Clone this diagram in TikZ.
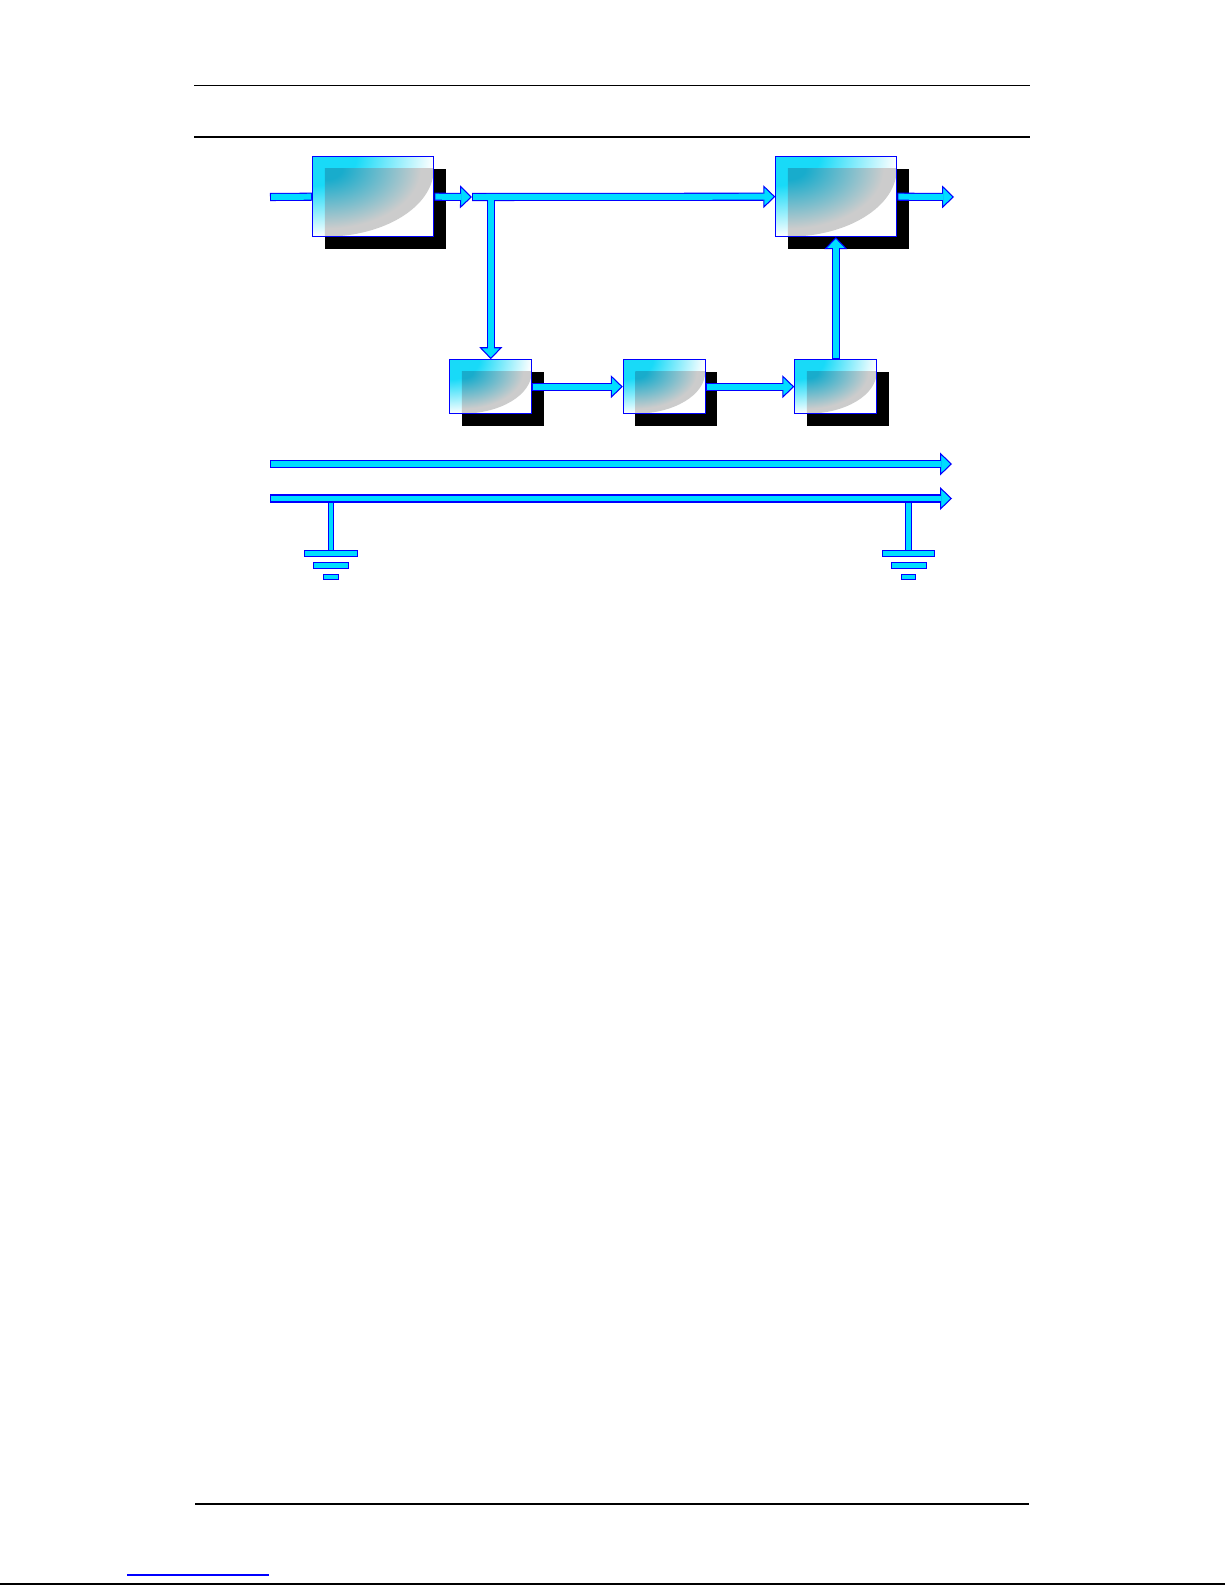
\documentclass[tikz,border=0pt]{standalone}
\usepackage{tikz}
\usetikzlibrary{arrows.meta}
\usetikzlibrary{shadows}
\usetikzlibrary{calc}

\definecolor{flowcyan}{RGB}{0,221,255}
\definecolor{flowblue}{RGB}{0,0,255}
\definecolor{glowcyan}{RGB}{24,218,248}
\definecolor{coreteal}{RGB}{24,172,204}
\definecolor{coregrey}{RGB}{204,204,204}

\pgfdeclareradialshading{boxglow}{\pgfpoint{0bp}{0bp}}{color(0bp)=(glowcyan); color(9bp)=(glowcyan); color(25bp)=(white); color(50bp)=(white)}
\pgfdeclareradialshading{boxcore}{\pgfpoint{0bp}{0bp}}{color(0bp)=(coreteal); color(4bp)=(coreteal); color(14bp)=(coreteal!45!coregrey); color(22bp)=(coregrey); color(50bp)=(coregrey)}

\begin{document}
\begin{tikzpicture}[x=0.02cm,y=-0.02cm,
  block/.style={draw=flowblue,line width=0.6pt,fill=white,inner sep=0pt,
    drop shadow={shadow xshift=0.24cm,shadow yshift=-0.24cm,opacity=1,fill=black,draw=none},
    path picture={
      \shade[shading=boxglow] let \p1=(path picture bounding box.north west),
        \p2=(path picture bounding box.south east) in
        (\p1) ellipse[x radius=\x2-\x1, y radius=\y1-\y2];
      \begin{scope}
        \clip let \p1=(path picture bounding box.north west),
          \p2=(path picture bounding box.south east) in
          (\x1+0.24cm,\y1-0.24cm) rectangle (\p2);
        \shade[shading=boxcore] let \p1=(path picture bounding box.north west),
          \p2=(path picture bounding box.south east) in
          (\x1+0.24cm,\y1-0.24cm) ellipse[x radius=\x2-\x1-0.24cm, y radius=\y1-\y2-0.24cm];
      \end{scope}
    }},
  bigblock/.style={block,minimum width=2.42cm,minimum height=1.6cm},
  smallblock/.style={block,minimum width=1.64cm,minimum height=1.08cm},
  fatline/.style={draw=flowblue,line width=4.6pt,
    postaction={draw=flowcyan,line width=3.4pt,arrows=-,shorten <=0.6pt,shorten >=0.6pt}},
  fatarrow/.style={draw=flowblue,line width=4.6pt,
    -{Triangle[length=6.8pt,width=13pt,fill=flowcyan,line width=0.6pt]},
    postaction={draw=flowcyan,line width=3.4pt,arrows=-,shorten <=0.6pt,shorten >=6pt}},
  gndbar/.style={draw=flowblue,fill=flowcyan,line width=0.6pt},
  rule/.style={black,line width=0.8pt}]

\useasboundingbox (0,0) rectangle (1225,1585);

% page rules
\draw[rule] (194,85.3) -- (1030,85.3);
\draw[rule] (194,137) -- (1030,137);
\draw[rule] (195,1504) -- (1029,1504);
\draw[flowblue,line width=0.6pt] (127,1575) -- (269,1575);
\draw[rule] (0,1584) -- (1225,1584);

% blocks
\node[bigblock] (inbox) at (373.3,196.7) {};
\node[bigblock] (outbox) at (836.3,196.7) {};
\node[smallblock] (stepa) at (490.8,386.7) {};
\node[smallblock] (stepb) at (664.3,386.7) {};
\node[smallblock] (stepc) at (835.8,386.7) {};

\coordinate (feed) at (270,197);
\coordinate (split) at (472,197);
\coordinate (tap) at (490.8,201);
\coordinate (exit) at (954,197);
\coordinate (busa0) at (270,464);
\coordinate (busa1) at (952,464);
\coordinate (busb0) at (270,498.5);
\coordinate (busb1) at (952,498.5);

% signal path
\draw[fatline] (feed) -- (inbox.west);
\draw[fatarrow] (inbox.east) -- (split);
\draw[fatarrow] (split) -- (outbox.west);
\draw[fatarrow,postaction={draw=flowcyan,line width=3.4pt,arrows=-,shorten <=-2.4pt,shorten >=6pt}] (tap) -- (stepa.north);
\draw[fatarrow] (stepa.east) -- (stepb.west);
\draw[fatarrow] (stepb.east) -- (stepc.west);
\draw[fatarrow] (stepc.north) -- (stepc.north |- outbox.south);
\draw[fatarrow] (outbox.east) -- (exit);

% buses
\draw[fatarrow] (busa0) -- (busa1);
\draw[fatarrow] (busb0) -- (busb1);

% grounds
\draw[gndbar] (328.3,502.3) rectangle (333.5,550.3);
\draw[gndbar] (304.3,550.3) rectangle (357.3,556.5);
\draw[gndbar] (313.3,562.3) rectangle (348.3,568.3);
\draw[gndbar] (323.3,574.3) rectangle (338.3,579.3);

\draw[gndbar] (905.5,502.3) rectangle (911.5,550.3);
\draw[gndbar] (882.3,550.3) rectangle (934.7,556.3);
\draw[gndbar] (891.3,562.3) rectangle (926.7,568.3);
\draw[gndbar] (901.3,574.3) rectangle (915.3,579.3);

\end{tikzpicture}
\end{document}
